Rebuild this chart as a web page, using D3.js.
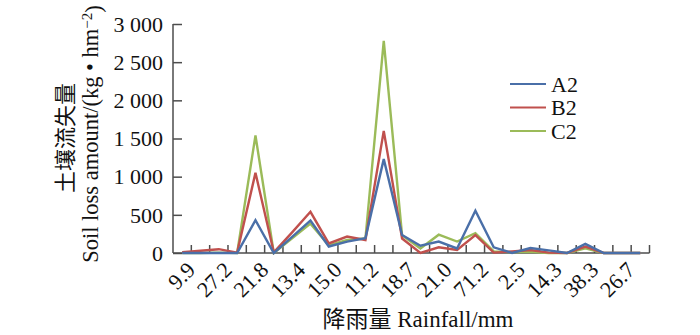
<!DOCTYPE html>
<html>
<head>
<meta charset="utf-8">
<script src="https://cdn.jsdelivr.net/npm/d3@7"></script>
<style>
  body { margin: 0; background: #fff; }
  text { font-family: "Liberation Serif", "Noto Sans CJK SC", serif; fill: #111; }
</style>
</head>
<body>
<div id="chart"></div>
<script>
const width = 700;
const height = 335;

// rainfall per event; only every other label is printed on the axis
const rainfall = ["9.9", "", "27.2", "", "21.8", "", "13.4", "", "15.0", "", "11.2", "", "18.7",
    "", "21.0", "", "71.2", "", "2.5", "", "14.3", "", "38.3", "", "26.7", ""];

const seriesNames = ["A2", "B2", "C2"];
const seriesColors = ["#4a6fa8", "#c0504d", "#9bbb59"];

const valuesA2 = [0, 0, 0, 0, 430, 0, 212, 425, 85, 150, 195, 1230, 235,
    95, 150, 60, 555, 75, 0, 65, 35, 0, 120, 0, 0, 0];
const valuesB2 = [10, 30, 50, 5, 1050, 10, 270, 540, 125, 215, 170, 1600, 190,
    0, 75, 40, 235, 5, 20, 40, 5, 0, 85, 0, 0, 0];
const valuesC2 = [0, 0, 5, 0, 1540, 0, 192, 385, 100, 170, 190, 2780, 230,
    60, 240, 150, 260, 20, 10, 15, 0, 0, 60, 0, 0, 0];

const yTicks = [0, 500, 1000, 1500, 2000, 2500, 3000];

const plotLeft = 173, plotRight = 649.5, plotTop = 24, plotBottom = 253;
const axisColor = "#4d4d4d";
const fontSize = "22px";

const svg = d3.select("#chart")
    .append("svg")
    .attr("width", width)
    .attr("height", height);

const x = d3.scaleBand()
    .domain(d3.range(rainfall.length))
    .range([plotLeft, plotRight]);

const y = d3.scaleLinear()
    .domain([0, 3000])
    .range([plotBottom, plotTop]);

const fmt = (v) => d3.format(",")(v).replace(",", " ");

// y axis, ticks pointing inward
const yAxis = svg.append("g")
    .attr("transform", `translate(${plotLeft},0)`)
    .call(d3.axisRight(y).tickValues(yTicks).tickSize(9).tickFormat(""));
yAxis.select(".domain").attr("d", `M0,${plotTop}V${plotBottom}`);

svg.append("g")
    .selectAll("text")
    .data(yTicks)
    .join("text")
    .attr("x", plotLeft - 10)
    .attr("y", (d) => y(d))
    .attr("dy", "0.35em")
    .attr("text-anchor", "end")
    .style("font-size", fontSize)
    .text(fmt);

// x axis, ticks on category boundaries
const bounds = d3.range(rainfall.length + 1).map((i) => plotLeft + i * x.step());
const xAxis = svg.append("g");
xAxis.append("path")
    .attr("d", `M${plotLeft},${plotBottom}H${plotRight}`);
xAxis.selectAll("line")
    .data(bounds.slice(1))
    .join("line")
    .attr("x1", (d) => d).attr("x2", (d) => d)
    .attr("y1", plotBottom).attr("y2", plotBottom - 8);

svg.selectAll("g path, g line")
    .attr("stroke", axisColor)
    .attr("stroke-width", 1.5)
    .attr("fill", "none");

svg.append("g")
    .selectAll("text")
    .data(rainfall.map((r, i) => ({ r, i })).filter((d) => d.r))
    .join("text")
    .attr("transform", (d) => `translate(${x(d.i) + x.bandwidth() / 2 + 5},${plotBottom + 9}) rotate(-45)`)
    .attr("dy", "0.6em")
    .attr("text-anchor", "end")
    .style("font-size", fontSize)
    .text((d) => d.r);

// lines: C2 first so A2 ends up on top
const line = d3.line()
    .x((d, i) => x(i) + x.bandwidth() / 2)
    .y((d) => y(d));

const allSeries = [valuesA2, valuesB2, valuesC2];
[2, 1, 0].forEach((k) => {
    svg.append("path")
        .datum(allSeries[k])
        .attr("d", line)
        .attr("fill", "none")
        .attr("stroke", seriesColors[k])
        .attr("stroke-width", 2.4)
        .attr("stroke-linejoin", "miter");
});

// legend
const legend = svg.append("g")
    .selectAll("g")
    .data(seriesNames)
    .join("g")
    .attr("transform", (d, i) => `translate(510,${84 + i * 23.5})`);
legend.append("line")
    .attr("x1", 0).attr("x2", 36)
    .attr("stroke", (d, i) => seriesColors[i])
    .attr("stroke-width", 2.2);
legend.append("text")
    .attr("x", 41)
    .attr("dy", "0.35em")
    .style("font-size", fontSize)
    .text((d) => d);

// axis titles
svg.append("text")
    .attr("x", 418)
    .attr("y", 327)
    .attr("text-anchor", "middle")
    .style("font-size", "23px")
    .text("降雨量 Rainfall/mm");

svg.append("text")
    .attr("transform", "translate(73,138) rotate(-90)")
    .attr("text-anchor", "middle")
    .style("font-size", "22px")
    .text("土壤流失量");

const yTitle = svg.append("text")
    .attr("transform", "translate(98,134) rotate(-90)")
    .attr("text-anchor", "middle")
    .style("font-size", "22.5px");
yTitle.append("tspan").text("Soil loss amount/(kg • hm");
yTitle.append("tspan").attr("dy", "-0.4em").style("font-size", "15px").text("−2");
yTitle.append("tspan").attr("dy", "0.4em").text(")");
</script>
</body>
</html>
